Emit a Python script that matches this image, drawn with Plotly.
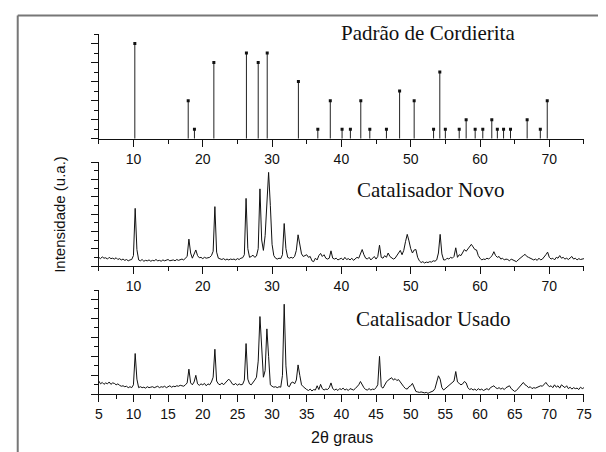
import plotly.graph_objects as go

# ---------------- data ----------------
# reference pattern (stick positions in 2theta, relative heights)
ref_pos = [10.2, 17.9, 18.8, 21.6, 26.3, 28.0, 29.3, 33.8, 36.6, 38.4, 40.1, 41.3,
           42.8, 44.1, 46.5, 48.4, 50.5, 53.3, 54.2, 55.0, 57.0, 58.0, 59.3, 60.4,
           61.7, 62.5, 63.4, 64.4, 66.8, 68.7, 69.7]
ref_int = [10, 4, 1, 8, 9, 8, 9, 6, 1, 4, 1, 1,
           4, 1, 1, 5, 4, 1, 7, 1, 1, 2, 1, 1,
           2, 1, 1, 1, 2, 1, 4]

# scan grid: 5.00 .. 75.00 deg, step 0.25
scan_start, scan_step, scan_n = 5.0, 0.25, 281
two_theta = [round(scan_start + scan_step * i, 2) for i in range(scan_n)]

# Catalisador Novo (rows of 5 degrees)
novo = (
    [1.0, 0.85, 1.05, 0.9, 0.95, 0.8, 1.0, 0.85, 0.9, 0.8, 0.95, 0.75, 0.85, 0.7, 0.8, 0.65, 0.75, 0.6, 0.7, 0.75]
    + [1.2, 6.65, 1.9, 0.7, 0.6, 0.75, 0.55, 0.65, 0.6, 0.7, 0.55, 0.65, 0.6, 0.75, 0.6, 0.65, 0.55, 0.7, 0.6, 0.65]
    + [0.75, 0.6, 0.65, 0.7, 0.6, 0.75, 0.65, 0.7, 0.8, 0.7, 0.85, 1.1, 3.1, 1.5, 0.9, 1.3, 1.85, 1.2, 0.95, 1.0]
    + [0.85, 1.0, 0.9, 0.95, 1.0, 1.2, 1.7, 6.85, 1.6, 0.9, 0.8, 0.75, 0.85, 0.7, 0.8, 0.7, 0.8, 0.75, 0.8, 0.7]
    + [0.85, 0.75, 0.9, 0.95, 1.3, 7.8, 2.0, 1.0, 1.1, 1.25, 1.0, 1.15, 2.0, 8.9, 3.0, 1.8, 3.5, 8.0, 10.8, 7.0]
    + [2.5, 1.2, 0.9, 0.8, 0.9, 0.85, 1.3, 4.9, 2.0, 1.0, 0.9, 1.0, 0.9, 1.1, 1.8, 3.6, 2.2, 1.4, 1.1, 1.2]
    + [1.3, 1.0, 1.1, 0.6, 0.5, 0.9, 0.7, 1.2, 1.45, 1.1, 1.3, 0.9, 0.8, 0.9, 1.75, 0.9, 0.8, 0.9, 0.7, 0.8]
    + [0.9, 0.7, 1.0, 0.75, 0.85, 0.7, 0.9, 0.65, 0.8, 1.0, 0.9, 1.4, 1.9, 1.3, 0.9, 0.8, 1.0, 0.7, 0.9, 1.1]
    + [0.8, 1.1, 2.4, 1.0, 0.9, 1.2, 1.0, 1.5, 1.1, 0.9, 0.8, 0.9, 1.2, 1.6, 1.8, 1.3, 1.8, 2.8, 3.65, 2.9]
    + [2.0, 1.5, 1.85, 1.9, 1.0, 0.6, 0.4, 0.5, 0.35, 0.45, 0.4, 0.5, 0.45, 0.6, 0.55, 0.7, 1.5, 3.65, 1.4, 0.7]
    + [0.7, 0.9, 0.8, 1.0, 0.9, 1.1, 2.1, 1.0, 1.3, 1.2, 1.6, 1.9, 1.7, 2.0, 2.3, 2.5, 2.2, 1.9, 1.85, 1.2]
    + [0.9, 0.7, 0.8, 0.75, 0.9, 0.8, 1.0, 1.2, 1.65, 1.2, 1.0, 1.1, 0.8, 0.9, 0.7, 0.8, 0.75, 0.6, 0.8, 0.7]
    + [0.6, 0.5, 0.7, 0.9, 1.1, 1.2, 1.35, 1.1, 1.0, 0.9, 0.8, 0.7, 0.8, 0.65, 0.9, 0.7, 0.8, 1.0, 1.3, 1.6]
    + [1.0, 0.8, 0.9, 0.7, 1.0, 0.9, 1.2, 0.9, 1.0, 0.8, 0.9, 0.75, 0.9, 1.1, 0.8, 0.9, 0.7, 0.85, 0.75, 0.8]
    + [0.85]
)

# Catalisador Usado (rows of 5 degrees)
usado = (
    [1.4, 1.1, 1.25, 1.05, 1.2, 1.1, 1.3, 1.05, 1.2, 1.15, 1.0, 1.1, 0.95, 0.85, 0.9, 0.8, 0.85, 0.7, 0.8, 0.7]
    + [1.0, 4.3, 1.6, 0.7, 0.8, 0.7, 0.75, 0.65, 0.8, 0.7, 0.75, 0.8, 0.7, 0.75, 0.85, 0.7, 0.8, 0.75, 0.85, 0.7]
    + [0.8, 0.9, 0.75, 0.85, 0.8, 0.9, 0.85, 0.95, 0.9, 0.85, 1.0, 1.2, 2.65, 1.2, 1.0, 1.3, 2.0, 1.1, 0.95, 1.1]
    + [1.0, 1.15, 0.9, 1.1, 1.0, 1.3, 1.8, 4.75, 1.4, 1.1, 1.0, 1.2, 1.0, 1.2, 1.35, 1.6, 1.4, 1.1, 1.0, 1.15]
    + [0.95, 1.1, 1.0, 1.05, 1.5, 5.35, 1.6, 1.1, 1.0, 1.2, 1.5, 1.8, 3.5, 8.2, 5.0, 1.8, 2.5, 6.9, 4.0, 1.0]
    + [0.85, 0.75, 0.8, 0.7, 0.8, 0.75, 2.0, 9.5, 3.0, 0.9, 0.8, 1.2, 1.3, 1.1, 1.5, 3.1, 2.0, 1.0, 0.8, 0.6]
    + [0.5, 0.4, 0.55, 0.35, 0.5, 0.45, 0.9, 0.5, 1.05, 0.6, 0.45, 0.55, 0.5, 0.7, 1.2, 0.6, 0.45, 0.55, 0.4, 0.6]
    + [0.5, 0.65, 0.45, 0.55, 0.4, 0.6, 0.5, 0.45, 0.6, 0.8, 1.0, 1.35, 1.0, 0.7, 0.5, 0.45, 0.6, 0.45, 0.55, 0.5]
    + [0.7, 1.0, 4.0, 0.8, 0.65, 1.0, 1.3, 1.5, 1.6, 1.75, 1.5, 1.65, 1.45, 1.55, 1.3, 1.0, 0.8, 0.6, 0.55, 0.8]
    + [0.9, 1.15, 0.6, 0.3, 0.25, 0.2, 0.25, 0.2, 0.15, 0.2, 0.1, 0.2, 0.25, 0.35, 0.6, 1.3, 1.95, 1.6, 0.7, 0.45]
    + [0.6, 0.8, 1.0, 1.15, 1.2, 1.4, 2.4, 1.3, 1.15, 1.0, 1.1, 1.35, 1.2, 0.7, 0.5, 0.6, 0.45, 0.55, 0.4, 0.6]
    + [0.45, 0.55, 0.4, 0.5, 0.6, 0.45, 0.7, 0.8, 0.9, 0.7, 0.6, 0.7, 0.55, 0.65, 0.5, 0.7, 0.8, 0.9, 0.6, 0.4]
    + [0.3, 0.4, 0.6, 0.8, 1.0, 1.25, 1.0, 0.9, 0.7, 0.8, 0.6, 0.7, 0.65, 0.75, 0.8, 0.9, 0.85, 1.0, 1.25, 1.0]
    + [0.8, 0.9, 0.7, 1.0, 0.75, 0.9, 0.65, 1.0, 0.8, 0.7, 0.9, 0.6, 0.75, 0.55, 0.7, 0.6, 0.65, 0.5, 0.75, 0.6]
    + [0.7]
)

titles = ["Padrão de Cordierita", "Catalisador Novo", "Catalisador Usado"]
x_title = "2θ graus"
y_title = "Intensidade (u.a.)"

# ---------------- figure ----------------
W, H = 606, 452
def px(x):
    return x / W
def py(y):
    return 1 - y / H

x_dom = [px(96.7), px(591.7)]

fig = go.Figure()

# sticks
sx, sy = [], []
for p, h in zip(ref_pos, ref_int):
    sx += [p, p, None]
    sy += [0, h, None]
fig.add_trace(go.Scatter(x=sx, y=sy, mode="lines", line=dict(color="#222", width=1),
                         xaxis="x", yaxis="y", hoverinfo="skip", showlegend=False))
fig.add_trace(go.Scatter(x=ref_pos, y=ref_int, mode="markers",
                         marker=dict(symbol="square", size=3, color="#111"),
                         xaxis="x", yaxis="y", showlegend=False))
fig.add_trace(go.Scatter(x=two_theta, y=novo, mode="lines", line=dict(color="#111", width=1),
                         xaxis="x2", yaxis="y2", showlegend=False))
fig.add_trace(go.Scatter(x=two_theta, y=usado, mode="lines", line=dict(color="#111", width=1),
                         xaxis="x3", yaxis="y3", showlegend=False))

tickfont = dict(family="Liberation Sans, Arial, sans-serif", size=14, color="#111")

def xax(anchor, dtick, minor_dtick, tick0):
    return dict(domain=x_dom, range=[5, 75], anchor=anchor, showgrid=False, zeroline=False,
                showline=True, linecolor="#111", linewidth=1,
                ticks="outside", ticklen=7, tickwidth=1, tickcolor="#111",
                tickmode="linear", tick0=tick0, dtick=dtick,
                minor=dict(ticks="outside", ticklen=4, tickwidth=1, tickcolor="#111",
                           dtick=minor_dtick, tick0=5, showgrid=False),
                tickfont=tickfont, ticklabeloverflow="allow")

def yax(anchor, dom, top):
    return dict(domain=dom, range=[0, top], anchor=anchor, showgrid=False, zeroline=False,
                showline=True, linecolor="#111", linewidth=1,
                ticks="outside", ticklen=7, tickwidth=1, tickcolor="#111",
                tickmode="linear", tick0=0, dtick=2, showticklabels=False,
                minor=dict(ticks="outside", ticklen=4, tickwidth=1, tickcolor="#111",
                           dtick=1, tick0=0, showgrid=False))

fig.update_layout(
    width=W, height=H, margin=dict(l=0, r=0, t=0, b=0),
    paper_bgcolor="white", plot_bgcolor="white", showlegend=False,
    xaxis=xax("y", 10, 5, 10),
    xaxis2=xax("y2", 10, 5, 10),
    xaxis3=xax("y3", 5, 2.5, 5),
    yaxis=yax("x", [py(138.7), py(34)], 11),
    yaxis2=yax("x2", [py(266), py(162)], 12),
    yaxis3=yax("x3", [py(394.3), py(290)], 11),
)

serif = dict(family="Liberation Serif, Times New Roman, serif", size=21, color="#111")
ann = [
    dict(x=px(433), y=py(33), text=titles[0], font=serif),
    dict(x=px(435.5), y=py(190), text=titles[1], font=serif),
    dict(x=px(438), y=py(319), text=titles[2], font=serif),
    dict(x=px(345), y=py(437), text=x_title,
         font=dict(family="Liberation Sans, Arial, sans-serif", size=16, color="#111")),
    dict(x=px(57), y=py(214), text=y_title, textangle=-90,
         font=dict(family="Liberation Sans, Arial, sans-serif", size=15, color="#111")),
]
for a in ann:
    a.update(xref="paper", yref="paper", showarrow=False, xanchor="center", yanchor="middle")
fig.update_layout(annotations=ann)

# page frame (grey border at top and left)
fig.add_shape(type="line", xref="paper", yref="paper", x0=px(14), x1=1, y0=py(15.5), y1=py(15.5),
              line=dict(color="#777", width=2))
fig.add_shape(type="line", xref="paper", yref="paper", x0=px(14), x1=px(14), y0=0, y1=py(15.5),
              line=dict(color="#777", width=2))

# remove the default page margin so the figure sits at the window's corner
fig.write_html("out.html", config={"displayModeBar": False},
               post_script="document.body.style.margin='0';document.body.style.overflow='hidden';")
